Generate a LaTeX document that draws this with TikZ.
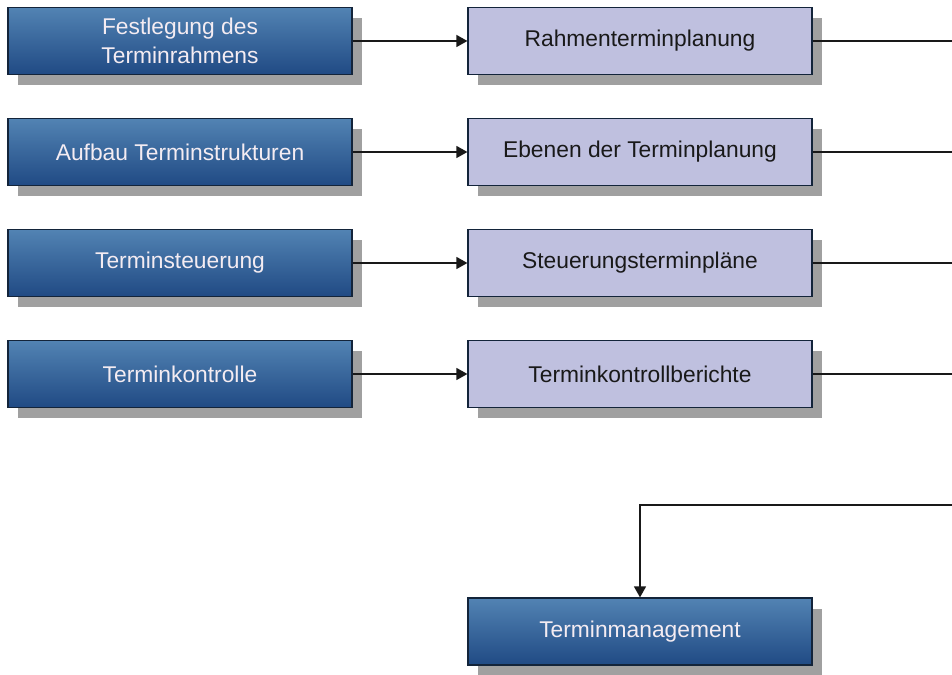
\documentclass[tikz,border=0pt]{standalone}
\usepackage{fontspec}
\setmainfont{Liberation Sans}
\usetikzlibrary{arrows.meta,positioning,shadows}
\definecolor{boxtop}{HTML}{5283B3}
\definecolor{boxbot}{HTML}{204A84}
\definecolor{boxrand}{HTML}{13243A}
\definecolor{lila}{HTML}{BFC0DF}
\definecolor{schatten}{HTML}{A0A0A0}
\definecolor{hell}{HTML}{F4ECF2}
\tikzset{
  >={Triangle[length=5.5pt,width=6pt]},
  % Kästen
  kasten/.style={rectangle,draw=boxrand,line width=0.6pt,minimum width=172pt,
             minimum height=33.5pt,inner sep=2pt,align=center,
             font=\fontsize{11.4}{14.5}\selectfont,
             drop shadow={shadow xshift=5pt,shadow yshift=-5.5pt,
                          fill=schatten,opacity=1}},
  taetig/.style={kasten,top color=boxtop,bottom color=boxbot,text=hell},
  ergebnis/.style={kasten,fill=lila,text=black!90},
  % Verbindungen
  pfeil/.style={->,draw=black!90,line width=0.7pt},
  linie/.style={draw=black!90,line width=0.7pt},
}
\begin{document}
\begin{tikzpicture}[x=0.5pt,y=0.5pt]
\useasboundingbox (0,0) rectangle (952,674);
  \node[taetig] (f1) at (180,633) {Festlegung des\\Terminrahmens};
  \node[taetig] (f2) at (180,522) {Aufbau Terminstrukturen};
  \node[taetig] (f3) at (180,411) {Terminsteuerung};
  \node[taetig] (f4) at (180,300) {Terminkontrolle};
  \node[ergebnis] (r1) at (640,633) {Rahmenterminplanung};
  \node[ergebnis] (r2) at (640,522) {Ebenen der Terminplanung};
  \node[ergebnis] (r3) at (640,411) {Steuerungsterminpläne};
  \node[ergebnis] (r4) at (640,300) {Terminkontrollberichte};
  \node[taetig] (tm) at (640,42.5) {Terminmanagement};
  \coordinate (e1) at (952,633);
  \coordinate (e2) at (952,522);
  \coordinate (e3) at (952,411);
  \coordinate (e4) at (952,300);
  \coordinate (eb) at (952,169);
  \draw[pfeil] (f1) -- (r1);
  \draw[pfeil] (f2) -- (r2);
  \draw[pfeil] (f3) -- (r3);
  \draw[pfeil] (f4) -- (r4);
  \draw[linie] (r1) -- (e1);
  \draw[linie] (r2) -- (e2);
  \draw[linie] (r3) -- (e3);
  \draw[linie] (r4) -- (e4);
  \draw[pfeil] (eb) -| (tm);
\end{tikzpicture}
\end{document}
